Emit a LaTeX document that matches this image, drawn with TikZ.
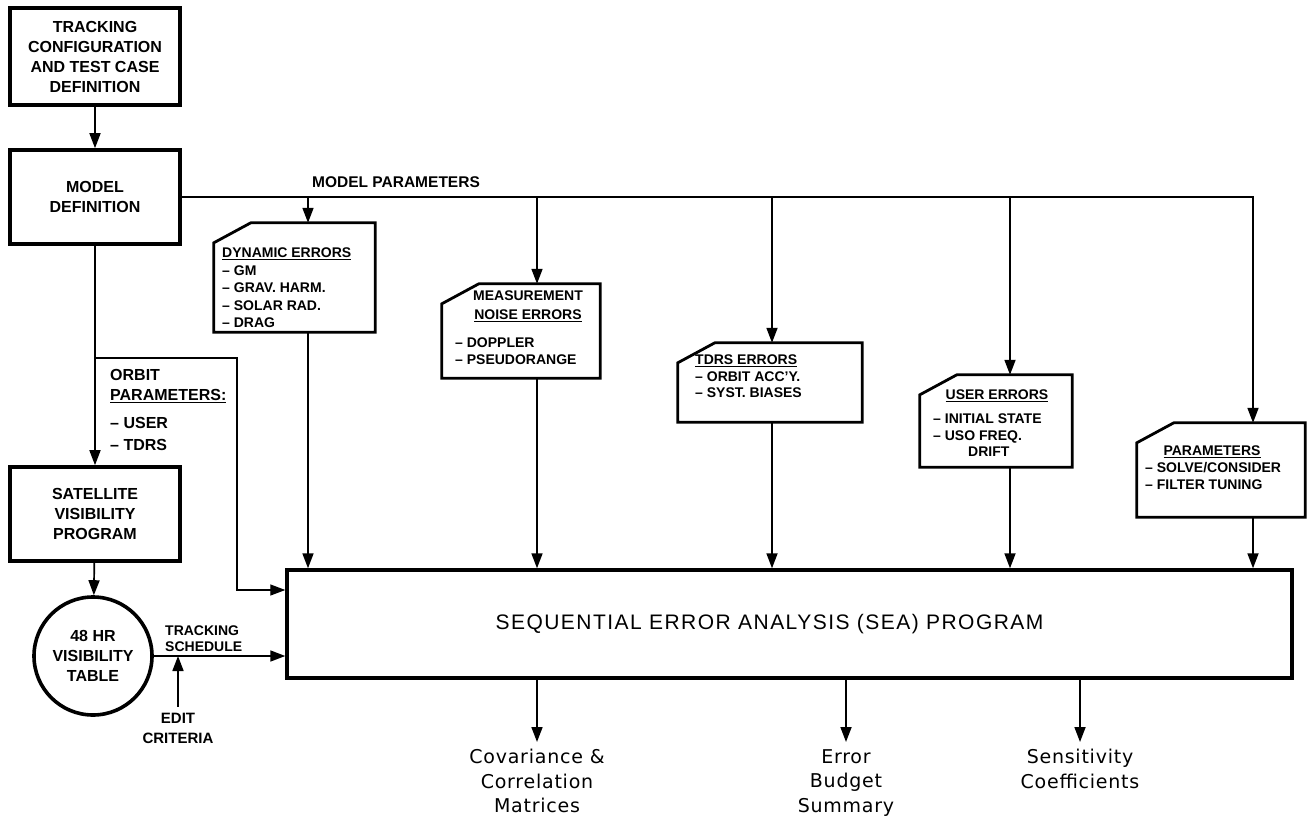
\documentclass[tikz,border=0pt]{standalone}
\usepackage{fontspec}
\setmainfont{Liberation Sans}
\newfontfamily\outfont{DejaVu Sans}[LetterSpace=4]
\newfontfamily\ttlfont{Liberation Sans}[LetterSpace=7]
\usetikzlibrary{arrows.meta,calc}
\begin{document}
\begin{tikzpicture}[x=1pt,y=-1pt,
  conn/.style={line width=1.7pt},
  arr/.style={conn,-{Triangle[length=15pt,width=11pt]}},
  boxnode/.style={draw,line width=3.6pt,minimum width=170pt,align=center,inner sep=0pt,font=\bfseries\fontsize{16}{20}\selectfont},
  cardnode/.style={inner sep=0pt,draw=none},
  cardline/.style={line width=2.8pt,line join=miter},
  cardtext/.style={inner sep=0pt,align=left,font=\bfseries\fontsize{14}{17}\selectfont},
  lbl/.style={inner sep=0pt,align=left,font=\bfseries\fontsize{14}{16}\selectfont},
  outtext/.style={inner sep=0pt,align=center,font=\outfont\fontsize{19}{24.5}\selectfont},
]
\path[use as bounding box] (0,0) rectangle (1313,818);

% left column
\node[boxnode,minimum height=97pt] (tc) at (95,56.5) {TRACKING\\CONFIGURATION\\AND TEST CASE\\DEFINITION};
\node[boxnode,minimum height=94pt] (md) at (95,197) {MODEL\\DEFINITION};
\node[boxnode,minimum height=94pt] (sv) at (95,514) {SATELLITE\\VISIBILITY\\PROGRAM};
\node[circle,draw,line width=3.6pt,minimum size=118pt,inner sep=0pt,align=center,font=\bfseries\fontsize{16}{20}\selectfont] (vt) at (93,656) {48 HR\\VISIBILITY\\TABLE};

% main box
\node[draw,line width=3.4pt,minimum width=1005pt,minimum height=108pt,inner sep=0pt,font=\ttlfont\fontsize{21}{25}\selectfont] (sea) at (789.5,624) {SEQUENTIAL ERROR ANALYSIS (SEA) PROGRAM\hspace*{40pt}};

% cards
\node[cardnode,minimum width=161pt,minimum height=109pt] (dyn) at (294.5,277.5) {};
\node[cardnode,minimum width=158pt,minimum height=94pt] (meas) at (521,331) {};
\node[cardnode,minimum width=184pt,minimum height=79pt] (tdrs) at (770,382.5) {};
\node[cardnode,minimum width=152pt,minimum height=92pt] (usr) at (996,421) {};
\node[cardnode,minimum width=168pt,minimum height=94pt] (par) at (1221,470) {};
\foreach \c in {dyn,meas,tdrs,usr,par}{
  \draw[cardline] ($(\c.north west)+(0pt,-20pt)$) -- ($(\c.north west)+(37pt,0pt)$) -- (\c.north east) -- (\c.south east) -- (\c.south west) -- cycle;
}

% card texts
\node[cardtext,anchor=north west,font=\bfseries\fontsize{14}{17.5}\selectfont] (dynT) at (222,248) {\underline{DYNAMIC ERRORS}\\-- GM\\-- GRAV. HARM.\\-- SOLAR RAD.\\-- DRAG};
\node[cardtext,anchor=north,align=center,font=\bfseries\fontsize{14}{19}\selectfont] (measT) at (528,291) {MEASUREMENT\\\underline{NOISE ERRORS}};
\node[cardtext,anchor=north west] (measL) at (455,338) {-- DOPPLER\\-- PSEUDORANGE};
\node[cardtext,anchor=north west,font=\bfseries\fontsize{14}{16.5}\selectfont] (tdrsT) at (695,355) {\underline{TDRS ERRORS}\\-- ORBIT ACC'Y.\\-- SYST. BIASES};
\node[cardtext,anchor=north] (usrT) at (997,390) {\underline{USER ERRORS}};
\node[cardtext,anchor=north west,font=\bfseries\fontsize{14}{16.5}\selectfont] (usrL) at (933,414) {-- INITIAL STATE\\-- USO FREQ.\\\hspace*{35pt}DRIFT};
\node[cardtext,anchor=north] (parT) at (1212,446) {\underline{PARAMETERS}};
\node[cardtext,anchor=north west] (parL) at (1145,462) {-- SOLVE/CONSIDER\\-- FILTER TUNING};

% labels
\node[lbl,anchor=north west,font=\bfseries\fontsize{15.5}{18}\selectfont] (mpl) at (312,176) {MODEL PARAMETERS};
\node[lbl,anchor=north west,font=\bfseries\fontsize{16}{20}\selectfont] (orbT) at (110,369.5) {ORBIT\\\underline{PARAMETERS:}};
\node[lbl,anchor=north west,font=\bfseries\fontsize{16}{22}\selectfont] (orbL) at (110,417) {-- USER\\-- TDRS};
\node[lbl,anchor=north west] (trk) at (165,626) {TRACKING\\SCHEDULE};
\node[lbl,anchor=north,align=center,font=\bfseries\fontsize{15}{20}\selectfont] (edit) at (178,712.5) {EDIT\\CRITERIA};

% outputs
\node[outtext,anchor=north] (cov) at (537,749) {Covariance \&\\Correlation\\Matrices};
\node[outtext,anchor=north] (ebs) at (846,749) {Error\\Budget\\Summary};
\node[outtext,anchor=north] (sens) at (1080,749) {Sensitivity\\Coefficients};

% coordinates on the model parameter line
\coordinate (a1) at (308,197);
\coordinate (a2) at (537,197);
\coordinate (a3) at (772,197);
\coordinate (a4) at (1010,197);
\coordinate (a5) at (1253,197);
\coordinate (ob) at (95,358);
\coordinate (oc) at (237,590);

% connectors
\draw[arr] (tc) -- (md);
\draw[arr] (md) -- (sv);
\draw[arr] (sv) -- (vt);
\draw[arr] (md.east) -- (a5) -- (a5 |- par.north);
\draw[arr] (a1) -- (a1 |- dyn.north);
\draw[arr] (a2) -- (a2 |- meas.north);
\draw[arr] (a3) -- (a3 |- tdrs.north);
\draw[arr] (a4) -- (a4 |- usr.north);
\draw[arr] (a1 |- dyn.south) -- (a1 |- sea.north);
\draw[arr] (a2 |- meas.south) -- (a2 |- sea.north);
\draw[arr] (a3 |- tdrs.south) -- (a3 |- sea.north);
\draw[arr] (a4 |- usr.south) -- (a4 |- sea.north);
\draw[arr] (a5 |- par.south) -- (a5 |- sea.north);
\draw[arr,line width=1.3pt] (ob) -| (oc) -- (oc -| sea.west);
\draw[arr] (vt.east) -- (vt.east -| sea.west);
\draw[arr] ([yshift=6pt]edit.north) -- (edit.north |- vt.east);
\draw[arr,shorten >=7pt] (cov |- sea.south) -- (cov.north);
\draw[arr,shorten >=7pt] (ebs |- sea.south) -- (ebs.north);
\draw[arr,shorten >=7pt] (sens |- sea.south) -- (sens.north);
\end{tikzpicture}
\end{document}
